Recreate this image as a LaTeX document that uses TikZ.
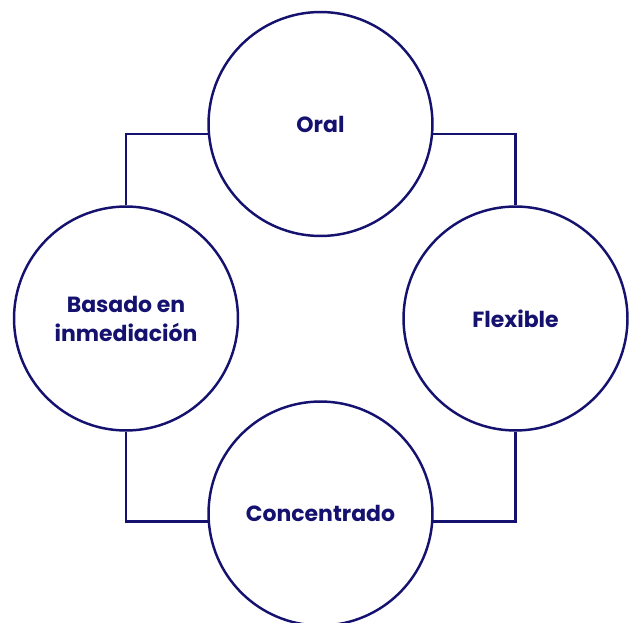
\documentclass[tikz,border=0pt]{standalone}
\usepackage{fontspec}
\setmainfont{Poppins}
\usepackage{tikz}
\usetikzlibrary{positioning,calc}
\definecolor{navy}{RGB}{20,18,110}

\begin{document}
\begin{tikzpicture}[x=0.02cm,y=-0.02cm,
    rasgo/.style={circle,draw=navy,line width=1.4pt,minimum size=4.48cm,inner sep=0pt,
        text=navy,font=\fontsize{12.5}{16.5}\selectfont\bfseries,align=center},
    enlace/.style={draw=navy,line width=1.4pt}]
    \clip (0,0) rectangle (638,622);
    \useasboundingbox (0,0) rectangle (638,622);
    % Four features
    \node[rasgo] (oral) at (320.5,124) {Oral};
    \node[rasgo] (basado) at (126,318.5) {Basado en\\inmediación};
    \node[rasgo] (flexible) at (515.5,318.5) {Flexible};
    \node[rasgo] (concentrado) at (320.5,513.5) {Concentrado};
    
    % Links
    \draw[enlace] (oral.185) -| (basado.north);
    \draw[enlace] (oral.-5) -| (flexible.north);
    \draw[enlace] (basado.south) |- (concentrado.184);
    \draw[enlace] (flexible.south) |- (concentrado.-4);
\end{tikzpicture}
\end{document}
